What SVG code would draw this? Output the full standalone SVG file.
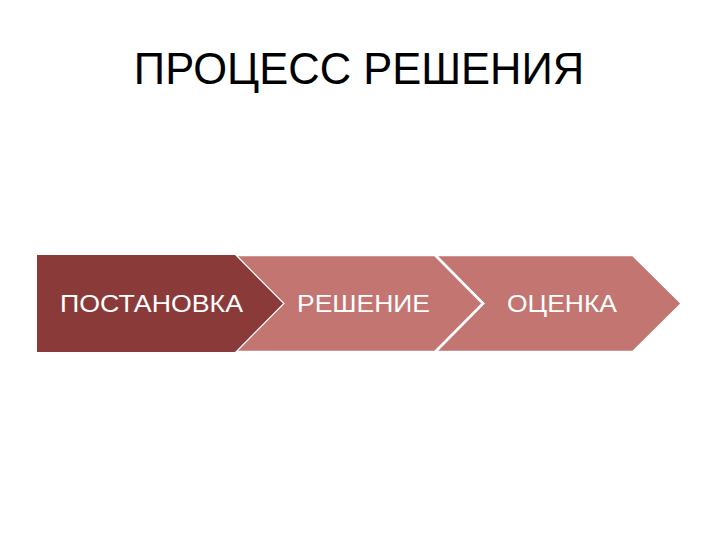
<svg xmlns="http://www.w3.org/2000/svg" width="720" height="540" viewBox="0 0 720 540">
<style>
.title{font-family:"Liberation Sans",Arial,sans-serif;font-size:43.5px;fill:#000;text-anchor:middle}
.lbl{font-family:"Liberation Sans",Arial,sans-serif;font-size:24px;fill:#fff;text-anchor:middle}
.dark{fill:#8B3A3A}
.light{fill:#C27571;stroke:#fff;stroke-width:2.5;stroke-linejoin:miter}
</style>
<rect width="720" height="540" fill="#fff"/>
<text class="title" x="359" y="83.5">ПРОЦЕСС РЕШЕНИЯ</text>
<g id="connectors"></g>
<g id="node3">
<polygon class="light" points="435,255 633,255 682,303.5 633,352 435,352 483,303.5"/>
<text class="lbl" x="562" y="312" textLength="110" lengthAdjust="spacingAndGlyphs">ОЦЕНКА</text>
</g>
<g id="node2">
<polygon class="light" points="235,255 435,255 483,303.5 435,352 235,352 283,303.5"/>
<text class="lbl" x="363.5" y="312" textLength="133" lengthAdjust="spacingAndGlyphs">РЕШЕНИЕ</text>
</g>
<g id="node1">
<polygon class="dark" points="37,255 235,255 283,303.5 235,352 37,352"/>
<text class="lbl" x="151.5" y="312" textLength="183" lengthAdjust="spacingAndGlyphs">ПОСТАНОВКА</text>
</g>
</svg>
